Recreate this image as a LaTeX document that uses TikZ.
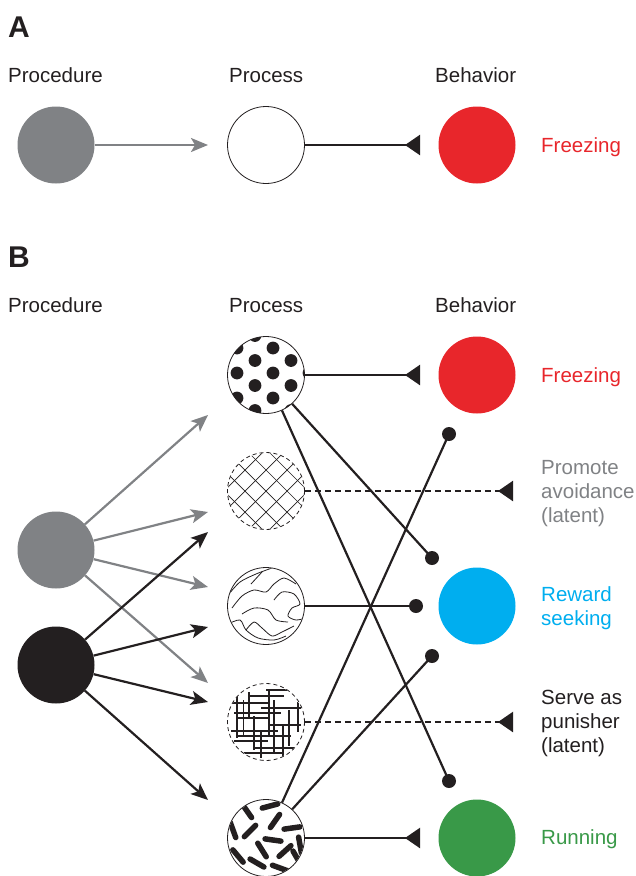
\documentclass[tikz,border=0pt]{standalone}
\usepackage{fontspec}
\setmainfont{Liberation Sans}
\usetikzlibrary{arrows.meta}
\definecolor{procgray}{RGB}{128,130,133}
\definecolor{nearblack}{RGB}{35,31,32}
\definecolor{freezered}{RGB}{232,38,43}
\definecolor{rewardblue}{RGB}{0,174,239}
\definecolor{rungreen}{RGB}{57,153,72}
\begin{document}
\begin{tikzpicture}[x=1pt,y=-1pt,
    every node/.style={font=\fontsize{20.5}{24}\selectfont,text=nearblack},
    ball/.style={circle,minimum size=77pt,inner sep=0pt},
    procball/.style={ball,draw=nearblack,line width=0.8pt,fill=white},
    latentball/.style={procball,dash pattern=on 4pt off 3pt},
    enddot/.style={circle,fill=nearblack,minimum size=14pt,inner sep=0pt},
    lbl/.style={anchor=base west,inner sep=0pt,align=left},
    panel/.style={anchor=base west,inner sep=0pt,font=\fontsize{30}{30}\selectfont\bfseries},
    graylink/.style={draw=procgray,line width=2.2pt,-{Stealth[length=17pt,width=14pt,inset=4pt]}},
    blacklink/.style={graylink,draw=nearblack},
    drives/.style={draw=nearblack,line width=2.2pt,-{Triangle[reversed,length=15pt,width=20pt]}},
    latentlink/.style={drives,dash pattern=on 6pt off 4pt},
    dotlink/.style={draw=nearblack,line width=2.2pt},
    hatch/.style={draw=nearblack,line width=0.7pt}]
  \useasboundingbox (0,0) rectangle (636,876);

  % A
  \node[panel] (labA) at (8,37) {A};
  \node[lbl] (hA1) at (8,82) {Procedure};
  \node[lbl] (hA2) at (229,82) {Process};
  \node[lbl] (hA3) at (435,82) {Behavior};
  \node[ball,fill=procgray] (cueA) at (56,145) {};
  \node[procball] (procA) at (266,145) {};
  \node[ball,fill=freezered] (behA) at (477,145) {};
  \coordinate (tipA) at (208,145);
  \coordinate (endA) at (420,145);
  \draw[graylink] (cueA) -- (tipA);
  \draw[drives] (procA) -- (endA);
  \node[lbl,text=freezered] (frzA) at (541,152) {Freezing};

  % B
  \node[panel] (labB) at (8,267) {B};
  \node[lbl] (hB1) at (8,312) {Procedure};
  \node[lbl] (hB2) at (229,312) {Process};
  \node[lbl] (hB3) at (435,312) {Behavior};

  \node[ball,fill=procgray] (cue) at (56,550) {};
  \node[ball,fill=nearblack] (shock) at (56,665) {};

  \node[procball] (p1) at (266,375) {};
  \node[latentball] (p2) at (266,491) {};
  \node[procball] (p3) at (266,606) {};
  \node[latentball] (p4) at (266,722) {};
  \node[procball] (p5) at (266,838) {};

  \node[ball,fill=freezered] (bFrz) at (477,375) {};
  \node[ball,fill=rewardblue] (bRwd) at (477,606) {};
  \node[ball,fill=rungreen] (bRun) at (477,838) {};

  \foreach \n/\y in {1/415,2/512,3/587,4/683} \coordinate (gt\n) at (208,\y);
  \foreach \n/\y in {1/532,2/627,3/702,4/800} \coordinate (bt\n) at (208,\y);
  \foreach \n in {1,...,4} \draw[graylink] (cue) -- (gt\n);
  \foreach \n in {1,...,4} \draw[blacklink] (shock) -- (bt\n);

  % patterns
  \begin{scope}[shift={(p1.center)}]
    \clip (0,0) circle[radius=38.5pt];
    \foreach \i in {-3,...,3} \foreach \j in {-3,...,3}
      \fill[nearblack] ({7+18*\i},{-2+25*\j+12.5*mod(abs(\i),2)}) circle[radius=6.4pt];
  \end{scope}
  \begin{scope}[shift={(p2.center)}]
    \clip (0,0) circle[radius=38pt];
    \foreach \k in {-3,...,3} {
      \draw[hatch] ({\k*21-50},-50) -- ({\k*21+50},50);
      \draw[hatch] ({\k*21+50},-50) -- ({\k*21-50},50);
    }
  \end{scope}
  \begin{scope}[shift={(p3.center)},hatch,line width=0.8pt]
    \clip (0,0) circle[radius=38pt];
    \draw plot[smooth] coordinates {(-37,-12) (-26,-24) (-10,-32) (6,-38)};
    \draw plot[smooth] coordinates {(-15,-22) (-4,-34)};
    \draw plot[smooth] coordinates {(-34,2) (-24,-10) (-12,-16) (0,-14) (8,-22) (18,-28) (30,-22)};
    \draw plot[smooth] coordinates {(8,-6) (16,-14) (28,-12) (34,-2) (26,2) (22,10) (30,14) (40,12)};
    \draw plot[smooth] coordinates {(-24,8) (-12,2) (2,4) (10,14) (22,16)};
    \draw plot[smooth] coordinates {(-38,18) (-26,14) (-20,24) (-8,32) (8,34) (20,30)};
    \draw plot[smooth] coordinates {(-20,24) (-12,16) (-4,22) (6,30) (16,26) (28,20)};
  \end{scope}
  \begin{scope}[shift={(p4.center)},draw=nearblack]
    \clip (0,0) circle[radius=38pt];
    \foreach \x/\ya/\yb/\w in {-29/-27/16/2.0,-23/-22/14/1.0,-12/-6/28/2.0,3/-32/14/2.0,
        8/-22/31/1.2,17/4/34/2.0,23/-12/24/1.2,32/-20/10/2.0,-5/10/36/1.2,-17/-30/-4/1.2}
      \draw[line width=\w pt] (\x,\ya) -- (\x,\yb);
    \foreach \y/\xa/\xb/\w in {-26/-18/18/1.4,-19/-35/2/1.8,-14/-5/35/1.2,-9/-32/15/1.8,
        -4/-28/2/1.2,3/2/35/1.8,9/-35/12/1.4,14/-28/25/1.8,19/-32/2/1.2,
        26/-12/28/1.8,31/-22/18/1.2,-32/0/25/1.4}
      \draw[line width=\w pt] (\xa,\y) -- (\xb,\y);
  \end{scope}
  \begin{scope}[shift={(p5.center)}]
    \clip (0,0) circle[radius=38pt];
    \foreach \x/\y/\a in {4/-32/-15,-19/-27/55,9/-17/-55,-16/-7/-45,26/-10/-8,7/2/8,
        -33/-8/70,-4/12/58,19/13/-42,-9/25/30,14/30/20,-28/18/50,34/7/80,31/20/60}
      \draw[nearblack,line width=5.5pt,line cap=round] (\x,\y) ++(\a:-8) -- ++(\a:16);
  \end{scope}

  % links to behavior
  \coordinate (e1) at (420,375);
  \coordinate (e2) at (513,491);
  \coordinate (e4) at (513,722);
  \coordinate (e5) at (420,838);
  \draw[drives] (p1) -- (e1);
  \draw[latentlink] (p2) -- (e2);
  \draw[latentlink] (p4) -- (e4);
  \draw[drives] (p5) -- (e5);

  \node[enddot] (d1) at (449,434) {};
  \node[enddot] (d2) at (432,558) {};
  \node[enddot] (d3) at (416,606) {};
  \node[enddot] (d4) at (432,656) {};
  \node[enddot] (d5) at (449,781) {};
  \draw[dotlink] (p1) -- (d2.center);
  \draw[dotlink] (p1) -- (d5.center);
  \draw[dotlink] (p3) -- (d3.center);
  \draw[dotlink] (p5) -- (d1.center);
  \draw[dotlink] (p5) -- (d4.center);

  \node[lbl,text=freezered] (frz) at (541,382) {Freezing};
  \node[lbl,text=procgray] (avoid) at (541,522) {Promote\\avoidance\\(latent)};
  \node[lbl,text=rewardblue] (rwd) at (541,625) {Reward\\seeking};
  \node[lbl] (pun) at (541,752) {Serve as\\punisher\\(latent)};
  \node[lbl,text=rungreen] (run) at (541,844) {Running};
\end{tikzpicture}
\end{document}
